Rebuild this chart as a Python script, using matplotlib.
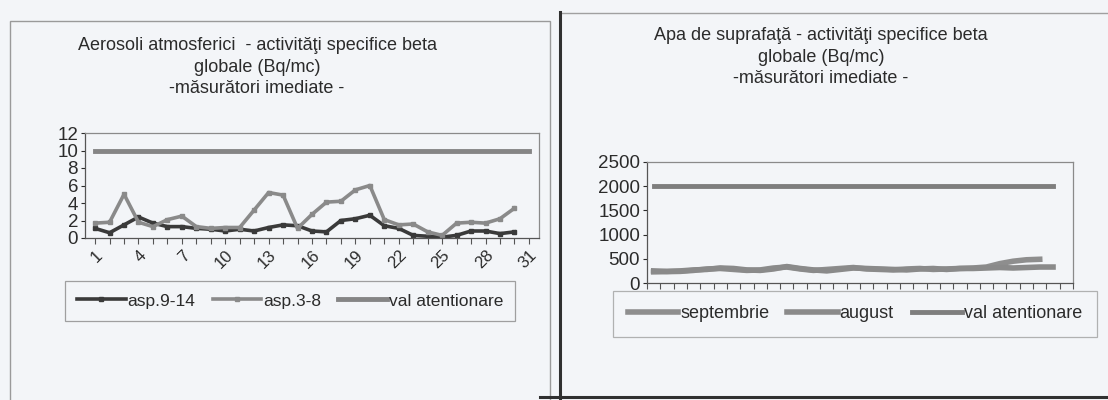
"""Two scanned Excel charts: beta activity in aerosols and surface water."""

import matplotlib.pyplot as plt
from matplotlib.patches import Rectangle
from matplotlib.lines import Line2D

# left chart: aerosols, days 1..31
days_left = list(range(1, 32))
asp_9_14 = [1.1, 0.6, 1.5, 2.4, 1.7, 1.3, 1.3, 1.1, 1.0, 0.8,
            1.0, 0.8, 1.2, 1.5, 1.4, 0.8, 0.7, 2.0, 2.2, 2.6,
            1.4, 1.1, 0.3, 0.2, 0.1, 0.3, 0.8, 0.8, 0.5, 0.7]
asp_3_8 = [1.7, 1.8, 5.0, 1.8, 1.3, 2.1, 2.5, 1.3, 1.1, 1.2,
           1.2, 3.2, 5.2, 4.9, 1.1, 2.7, 4.1, 4.2, 5.5, 6.0,
           2.1, 1.5, 1.6, 0.7, 0.3, 1.7, 1.8, 1.7, 2.2, 3.4]
val_left = [10] * 31
left_ticklabels = [str(d) if (d - 1) % 3 == 0 else "" for d in days_left]

# right chart: surface water, days 1..31
days_right = list(range(1, 32))
septembrie = [230, 235, 240, 260, 290, 300, 280, 260, 270, 310,
              330, 290, 260, 280, 300, 320, 290, 280, 270, 290,
              300, 280, 290, 300, 310, 330, 400, 450, 480, 490]
august = [250, 240, 250, 270, 280, 310, 300, 270, 260, 290,
          340, 300, 270, 250, 280, 310, 300, 290, 280, 270,
          290, 300, 280, 300, 300, 310, 320, 310, 320, 330, 330]
val_right = [2000] * 31

BG = "#f3f5f8"
TXT = "#2b2b2b"

plt.rcParams["font.family"] = ["Liberation Sans", "DejaVu Sans"]

fig = plt.figure(figsize=(11.08, 4.0), dpi=100, facecolor=BG)
W, H = 1108, 400


def fx(px):
    return px / W


def fy(py):
    return 1 - py / H


# outer chart boxes (pixel coords from top-left)
fig.patches.append(Rectangle((fx(10), fy(420)), fx(540), 399 / H, transform=fig.transFigure,
                             fill=False, edgecolor="#9a9a9a", lw=1.0))
fig.add_artist(Line2D([fx(560), fx(1108)], [fy(13), fy(13)], color="#a0a0a0", lw=1.0))
fig.add_artist(Line2D([fx(560), fx(560)], [fy(12), fy(398)], color="#303030", lw=2.2))
fig.add_artist(Line2D([fx(540), fx(1108)], [fy(397), fy(397)], color="#303030", lw=2.2))

# ---- left chart
ax1 = fig.add_axes([fx(85), fy(238), fx(454), 105 / H], facecolor=BG)
ax1.plot(days_left[:len(asp_9_14)], asp_9_14, color="#3a3a3a", lw=2.6,
         marker="s", ms=3.5, label="asp.9-14")
ax1.plot(days_left[:len(asp_3_8)], asp_3_8, color="#8a8a8a", lw=2.6,
         marker="s", ms=3.5, label="asp.3-8")
ax1.plot(days_left, val_left, color="#858585", lw=3.5, label="val atentionare")
ax1.set_xlim(0.3, 31.7)
ax1.set_ylim(0, 12)
ax1.set_yticks(range(0, 13, 2))
ax1.set_xticks(days_left)
ax1.set_xticklabels(left_ticklabels, rotation=45, ha="right", va="top",
                    rotation_mode="anchor", fontsize=12, color=TXT)
ax1.tick_params(axis="y", labelsize=13.5, colors=TXT, length=3, pad=2)
ax1.tick_params(axis="x", length=4, colors="#555555", labelcolor=TXT, pad=3)
for s in ax1.spines.values():
    s.set_color("#8a8a8a")
    s.set_linewidth(0.9)
ax1.spines["left"].set_color("#555555")
ax1.spines["bottom"].set_color("#555555")

fig.text(fx(257), fy(37), "Aerosoli atmosferici  - activităţi specifice beta\nglobale (Bq/mc)\n-măsurători imediate -",
         ha="center", va="top", fontsize=13, color=TXT, linespacing=1.35)

leg1 = ax1.legend(loc="center", bbox_to_anchor=(fx(290), fy(301)), bbox_transform=fig.transFigure,
                  ncol=3, frameon=True, fancybox=False, fontsize=12.5, handlelength=2.8,
                  columnspacing=1.0, handletextpad=0.1, borderpad=0.7)
leg1.get_frame().set_edgecolor("#8a8a8a")
leg1.get_frame().set_facecolor(BG)
leg1.get_frame().set_linewidth(0.9)
for t in leg1.get_texts():
    t.set_color(TXT)

# ---- right chart
ax2 = fig.add_axes([fx(647), fy(283), fx(426), 121 / H], facecolor=BG)
ax2.plot(days_right[:len(septembrie)], septembrie, color="#8e8e8e", lw=4, label="septembrie")
ax2.plot(days_right, august, color="#8a8a8a", lw=4, label="august")
ax2.plot(days_right, val_right, color="#7e7e7e", lw=3.5, label="val atentionare")
ax2.set_xlim(0.5, 32.5)
ax2.set_ylim(0, 2500)
ax2.set_yticks(range(0, 2501, 500))
ax2.set_xticks([x + 0.5 for x in range(0, 33)])
ax2.set_xticklabels([])
ax2.tick_params(axis="y", labelsize=13.5, colors=TXT, length=3, pad=2)
ax2.tick_params(axis="x", length=4, colors="#555555")
for s in ax2.spines.values():
    s.set_color("#8a8a8a")
    s.set_linewidth(0.9)
ax2.spines["left"].set_color("#555555")
ax2.spines["bottom"].set_color("#555555")

fig.text(fx(821), fy(27), "Apa de suprafaţă - activităţi specifice beta\nglobale (Bq/mc)\n-măsurători imediate -",
         ha="center", va="top", fontsize=13, color=TXT, linespacing=1.35)

leg2 = ax2.legend(loc="center", bbox_to_anchor=(fx(855), fy(314)), bbox_transform=fig.transFigure,
                  ncol=3, frameon=True, fancybox=False, fontsize=13, handlelength=2.8,
                  columnspacing=1.0, handletextpad=0.1, borderpad=0.8)
leg2.get_frame().set_edgecolor("#a0a0a0")
leg2.get_frame().set_facecolor(BG)
leg2.get_frame().set_linewidth(0.9)
for t in leg2.get_texts():
    t.set_color(TXT)

fig.savefig("out.png", dpi=100, facecolor=BG)
